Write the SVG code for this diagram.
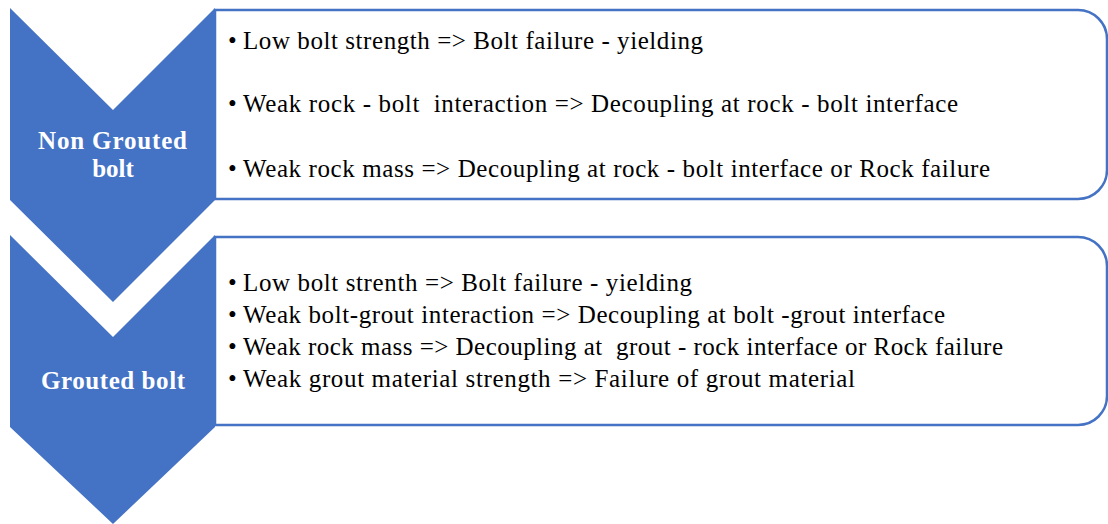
<svg xmlns="http://www.w3.org/2000/svg" width="1108" height="524" viewBox="0 0 1108 524">
<style>
.chev{fill:#4472C4;}
.box{fill:#fff;stroke:#4472C4;stroke-width:2.5;}
.lbl{font-family:'Liberation Serif','Times New Roman','DejaVu Serif',serif;font-weight:bold;font-size:25px;fill:#fff;text-anchor:middle;}
.item{font-family:'Liberation Serif','Times New Roman','DejaVu Serif',serif;font-size:25px;fill:#000;white-space:pre;}
</style>
<rect width="1108" height="524" fill="#fff"/>
<g id="box1">
<path class="box" d="M215,10 H1078 A29,29 0 0 1 1107,39 V170 A29,29 0 0 1 1078,199 H215 Z"/>
<text class="item" x="228" y="49">•</text><text class="item" x="243" y="49" textLength="460" lengthAdjust="spacing">Low bolt strength =&gt; Bolt failure - yielding</text>
<text class="item" x="228" y="112">•</text><text class="item" x="243" y="112" xml:space="preserve" textLength="715" lengthAdjust="spacing">Weak rock - bolt  interaction =&gt; Decoupling at rock - bolt interface</text>
<text class="item" x="228" y="177">•</text><text class="item" x="243" y="177" textLength="747" lengthAdjust="spacing">Weak rock mass =&gt; Decoupling at rock - bolt interface or Rock failure</text>
</g>
<g id="box2">
<path class="box" d="M215,237 H1078 A29,29 0 0 1 1107,266 V396 A29,29 0 0 1 1078,425 H215 Z"/>
<text class="item" x="228" y="291">•</text><text class="item" x="243" y="291" textLength="449" lengthAdjust="spacing">Low bolt strenth =&gt; Bolt failure - yielding</text>
<text class="item" x="228" y="323">•</text><text class="item" x="243" y="323" textLength="702" lengthAdjust="spacing">Weak bolt-grout interaction =&gt; Decoupling at bolt -grout interface</text>
<text class="item" x="228" y="355">•</text><text class="item" x="243" y="355" xml:space="preserve" textLength="760" lengthAdjust="spacing">Weak rock mass =&gt; Decoupling at  grout - rock interface or Rock failure</text>
<text class="item" x="228" y="387">•</text><text class="item" x="243" y="387" textLength="612" lengthAdjust="spacing">Weak grout material strength =&gt; Failure of grout material</text>
</g>
<g id="chevron1">
<polygon class="chev" points="10,8 113,110 215,8 215,200 113,302 10,200"/>
<text class="lbl" x="112.5" y="149" textLength="149" lengthAdjust="spacing">Non Grouted</text>
<text class="lbl" x="113" y="177">bolt</text>
</g>
<g id="chevron2">
<polygon class="chev" points="10,235 113,337 215,235 215,427 113,524 10,427"/>
<text class="lbl" x="113" y="389" textLength="144" lengthAdjust="spacing">Grouted bolt</text>
</g>
<g id="connectors"></g>
</svg>
